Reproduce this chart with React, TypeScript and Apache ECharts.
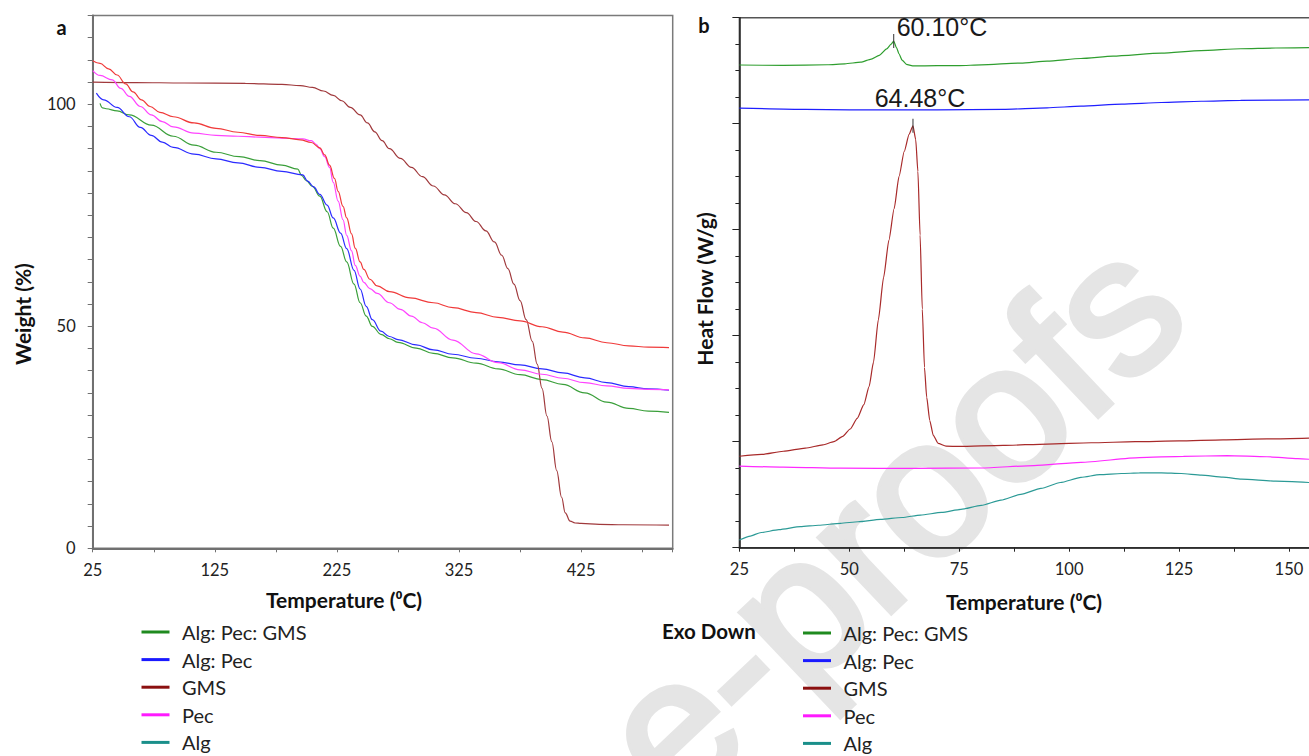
import React, { useEffect, useRef } from 'react';
import * as echarts from 'echarts';

// ---------- data ----------
const seriesNames = ['Alg: Pec: GMS', 'Alg: Pec', 'GMS', 'Pec', 'Alg'];
const legendColors = ['#1f8a1f', '#1a1aff', '#8b1010', '#ff1aff', '#1a8f8a'];
const tgaColors = ['#3a9f3a', '#2b2bff', '#a0393c', '#ff44ff', '#f03a3a'];
const dscColors = ['#2f9e2f', '#1f1fff', '#a82a2a', '#ff2aff', '#2b9a96'];

// TGA (panel a): [temperature °C, weight %]
const tgaAlgPecGms: [number, number][] = [
  [31, 100.2], [33, 99.2], [36, 99.0], [45, 98.5], [55, 97.6], [73, 95.3], [91, 92.8], [108, 90.8],
  [126, 89.2], [145, 88.2], [162, 87.3], [180, 86.3], [193, 85.4], [196, 84], [200, 82.8], [205, 81.5],
  [211, 79.3], [217, 75.8], [222, 72.1], [228, 68], [233, 64.5], [239, 59.5], [244, 55.3], [249, 52.3],
  [254, 50], [261, 48.2], [268, 47.2], [275, 46.4], [290, 45.1], [304, 43.9], [320, 42.9], [339, 41.7],
  [357, 40.4], [375, 39.1], [393, 38], [410, 36.9], [428, 35], [446, 32.9], [464, 31.5], [480, 30.9], [497, 30.6],
];
const tgaAlgPec: [number, number][] = [
  [28, 102.5], [34, 101], [45, 99.3], [55, 97.2], [64, 94.8], [73, 93], [82, 91.5], [91, 90.3], [108, 88.8],
  [126, 87.7], [144, 86.8], [162, 85.8], [180, 84.9], [197, 84.1], [201, 82.7], [206, 81.4], [211, 79.7],
  [217, 77.3], [222, 74.4], [228, 71], [233, 67.5], [239, 62.6], [244, 58.4], [249, 54.5], [254, 51.5],
  [261, 48.9], [268, 47.7], [275, 47], [290, 45.8], [304, 44.7], [320, 43.7], [339, 42.8], [357, 42],
  [375, 41.3], [393, 40.4], [410, 39.5], [428, 38.4], [446, 37.3], [464, 36.4], [480, 35.9], [497, 35.6],
];
const tgaGms: [number, number][] = [
  [25, 105], [60, 104.9], [100, 104.8], [150, 104.7], [180, 104.5], [195, 104.2], [205, 103.8], [214, 103],
  [222, 102], [229, 100.8], [236, 99.3], [244, 97.6], [250, 95.8], [256, 93.8], [262, 91.8], [268, 90],
  [277, 87.8], [286, 85.8], [295, 83.7], [304, 81.6], [313, 79.6], [322, 77.6], [331, 75.6], [339, 73.6],
  [347, 71.5], [354, 69], [360, 66], [365, 63], [370, 59.5], [375, 55.8], [380, 51.5], [385, 46.6],
  [389, 41.5], [393, 36], [397, 29.8], [401, 24], [405, 17.5], [409, 11.5], [412, 8], [416, 6.1],
  [420, 5.7], [425, 5.6], [440, 5.4], [460, 5.3], [497, 5.2],
];
const tgaPec: [number, number][] = [
  [25, 107.6], [31, 106.5], [41, 105.5], [48, 103.6], [55, 101.8], [64, 99.5], [73, 97.6], [82, 96.1],
  [91, 94.9], [108, 93.5], [126, 93], [144, 92.8], [162, 92.6], [180, 92.4], [197, 92.2], [204, 91.8],
  [208, 91], [211, 90], [215, 88.2], [219, 85.8], [222, 82.4], [226, 78.2], [230, 74], [233, 70.5],
  [237, 67], [240, 63.7], [244, 61.3], [247, 59.9], [252, 58.5], [258, 57.4], [268, 55.3], [277, 53.8],
  [286, 52.3], [295, 50.8], [304, 49.6], [320, 46.9], [339, 43.8], [357, 41.8], [375, 40.2], [393, 39.2],
  [410, 38.3], [428, 37.3], [446, 36.6], [464, 36], [480, 35.8], [497, 35.7],
];
const tgaAlg: [number, number][] = [
  [25, 109.8], [31, 109.2], [38, 108], [45, 106.6], [52, 104.6], [58, 102.8], [65, 101], [72, 99.5],
  [80, 98.2], [91, 97.2], [108, 95.8], [126, 94.6], [144, 93.7], [162, 93], [180, 92.5], [195, 92],
  [204, 91.4], [211, 90.2], [215, 88.6], [219, 86.3], [223, 83.3], [226, 80.4], [230, 77], [233, 74.4],
  [237, 70.8], [240, 67.6], [244, 64.5], [247, 62.8], [252, 60.6], [258, 59.1], [268, 57.8], [285, 56.4],
  [304, 55.3], [320, 54.2], [339, 53.1], [357, 52], [375, 51.2], [393, 49.9], [410, 48.7], [428, 47.4],
  [446, 46.3], [464, 45.6], [480, 45.3], [497, 45.2],
];

// DSC (panel b): [temperature °C, heat flow (arbitrary offset units)]
const dscAlgPecGms: [number, number][] = [
  [25, 4.554], [35, 4.55], [45, 4.556], [49, 4.565], [52.6, 4.58], [55, 4.61], [56.8, 4.645], [58.5, 4.705],
  [59.5, 4.75], [60.1, 4.78], [60.7, 4.72], [61.3, 4.66], [62, 4.6], [63, 4.56], [64.4, 4.545], [70, 4.547],
  [75, 4.548], [80, 4.555], [89, 4.572], [95, 4.59], [102.7, 4.615], [110, 4.637], [121, 4.665], [130, 4.69],
  [139, 4.707], [147, 4.714], [156, 4.718],
];
const dscAlgPec: [number, number][] = [
  [25, 4.147], [40, 4.135], [50, 4.131], [70, 4.13], [85, 4.135], [95, 4.15], [102.7, 4.165], [112, 4.185],
  [121, 4.2], [130, 4.212], [139, 4.22], [156, 4.225],
];
const dscGms: [number, number][] = [
  [25, 0.863], [30, 0.88], [35, 0.91], [40, 0.94], [44, 0.97], [46.5, 1.0], [48.5, 1.05], [50.2, 1.12],
  [51.8, 1.22], [53.3, 1.35], [54.5, 1.52], [55.5, 1.75], [56.6, 2.15], [57.8, 2.55], [59, 2.9], [60.2, 3.2],
  [61.3, 3.5], [62.5, 3.74], [63.6, 3.9], [64.48, 3.98], [65.1, 3.85], [65.6, 3.55], [66.1, 2.95], [66.6, 2.25],
  [67.1, 1.7], [67.6, 1.42], [68.3, 1.2], [69.1, 1.06], [70.2, 0.985], [72, 0.958], [75, 0.955], [85, 0.965],
  [95, 0.978], [105, 0.99], [115, 1.0], [125, 1.008], [135, 1.018], [145, 1.027], [156, 1.036],
];
const dscPec: [number, number][] = [
  [25, 0.77], [35, 0.76], [48, 0.75], [65, 0.748], [80, 0.752], [92, 0.775], [102.7, 0.805], [116, 0.85],
  [126, 0.862], [136, 0.868], [145, 0.858], [152, 0.84], [156, 0.83],
];
const dscAlg: [number, number][] = [
  [25, 0.073], [27.5, 0.11], [29.7, 0.141], [34, 0.17], [38.9, 0.198], [43, 0.212], [48, 0.23], [52, 0.245],
  [57.1, 0.267], [62, 0.285], [66.2, 0.308], [71, 0.333], [75.4, 0.362], [80, 0.4], [84.5, 0.449], [89, 0.503],
  [93.6, 0.559], [98, 0.615], [102.7, 0.663], [107, 0.69], [111.9, 0.7], [116, 0.705], [121, 0.706],
  [125.5, 0.7], [130.1, 0.685], [135, 0.665], [139.2, 0.647], [147, 0.628], [156, 0.612],
];

const peakTemps = [60.1, 64.48];
const peakValues = [4.78, 3.98];
const peakLabels = ['60.10°C', '64.48°C'];

const tgaData = [tgaAlgPecGms, tgaAlgPec, tgaGms, tgaPec, tgaAlg];
const dscData = [dscAlgPecGms, dscAlgPec, dscGms, dscPec, dscAlg];

const FONT = 'Lato, "Open Sans", "DejaVu Sans", sans-serif';

export default function App() {
  const ref = useRef<HTMLDivElement>(null);

  useEffect(() => {
    if (!ref.current) return;
    const chart = echarts.init(ref.current, undefined, { renderer: 'svg' });

    const labelStyle = { fontFamily: FONT, fontSize: 16.5, color: '#222' };

    const series: any[] = [];
    tgaData.forEach((d, i) => {
      series.push({
        name: seriesNames[i],
        type: 'line',
        xAxisIndex: 0,
        yAxisIndex: 0,
        data: d,
        showSymbol: false,
        smooth: 0.4,
        smoothMonotone: 'x',
        lineStyle: { color: tgaColors[i], width: 1.2 },
        itemStyle: { color: tgaColors[i] },
        z: 3,
      });
    });
    dscData.forEach((d, i) => {
      const s: any = {
        name: seriesNames[i],
        type: 'line',
        xAxisIndex: 1,
        yAxisIndex: 1,
        data: d,
        showSymbol: false,
        smooth: 0.2,
        smoothMonotone: 'x',
        lineStyle: { color: dscColors[i], width: 1.2 },
        itemStyle: { color: dscColors[i] },
        z: 3,
      };
      const pk = i === 0 ? 0 : i === 2 ? 1 : -1;
      if (pk >= 0) {
        s.markPoint = {
          symbol: 'rect',
          symbolSize: [1, 14],
          itemStyle: { color: '#333' },
          silent: true,
          data: [
            {
              coord: [peakTemps[pk], peakValues[pk]],
              label: {
                show: true,
                formatter: peakLabels[pk],
                position: 'top',
                distance: 0,
                align: pk === 0 ? 'left' : 'center',
                offset: pk === 0 ? [3, 5] : [7, -8],
                fontFamily: '"Liberation Sans", Arial, sans-serif',
                fontSize: 25,
                lineHeight: 25,
                color: '#1a1a1a',
              },
            },
          ],
        };
      }
      series.push(s);
    });

    const legendBase = {
      orient: 'vertical',
      icon: 'rect',
      itemWidth: 28,
      itemHeight: 3,
      itemGap: 7.6,
      padding: 0,
      textStyle: { fontFamily: FONT, fontSize: 20, color: '#222', lineHeight: 20, padding: [0, 0, 0, 7.5] },
      data: seriesNames.map((n, i) => ({ name: n, itemStyle: { color: legendColors[i] } })),
    };

    const titleStyle = { fontFamily: FONT, fontWeight: 'bold', fontSize: 21, fill: '#111', align: 'center', verticalAlign: 'middle' };

    const option: any = {
      animation: false,
      backgroundColor: '#fff',
      grid: [
        { left: 92.7, top: 15.5, width: 580, height: 532.8, show: true, borderColor: '#7a7a7a', borderWidth: 1.5, backgroundColor: 'transparent' },
        { left: 739.4, top: 17.7, width: 604.5, height: 530, show: true, borderColor: '#555', borderWidth: 1.5, backgroundColor: 'transparent' },
      ],
      xAxis: [
        {
          type: 'value', gridIndex: 0, min: 25, max: 500, interval: 50,
          axisLine: { show: true, lineStyle: { color: '#707070', width: 2 } },
          axisTick: { show: true, length: 4, lineStyle: { color: '#707070' } },
          splitLine: { show: false },
          axisLabel: {
            ...labelStyle, margin: 13,
            formatter: (v: number) => ((v - 25) % 100 === 0 && v <= 425 ? String(v) : ''),
          },
        },
        {
          type: 'value', gridIndex: 1, min: 25, max: 162.5, interval: 12.5,
          axisLine: { show: true, lineStyle: { color: '#222', width: 1.5 } },
          axisTick: { show: true, length: 4, lineStyle: { color: '#222' } },
          splitLine: { show: false },
          axisLabel: {
            ...labelStyle, margin: 13,
            formatter: (v: number) => (v % 25 === 0 && v <= 150 ? String(v) : ''),
          },
        },
      ],
      yAxis: [
        {
          type: 'value', gridIndex: 0, min: 0, max: 120, interval: 5,
          axisLine: { show: true, lineStyle: { color: '#707070', width: 2 } },
          axisTick: { show: true, length: 5, lineStyle: { color: '#707070' } },
          splitLine: { show: false },
          axisLabel: {
            ...labelStyle, margin: 17,
            formatter: (v: number) => (v % 50 === 0 ? String(v) : ''),
          },
        },
        {
          type: 'value', gridIndex: 1, min: 0, max: 5, interval: 1,
          axisLine: { show: true, lineStyle: { color: '#222', width: 1.5 } },
          axisTick: { show: true, length: 7, lineStyle: { color: '#222' } },
          minorTick: { show: true, splitNumber: 4, length: 4, lineStyle: { color: '#222' } },
          splitLine: { show: false },
          axisLabel: { show: false },
        },
      ],
      legend: [
        { ...legendBase, left: 141.5, top: 622 },
        { ...legendBase, left: 803, top: 623 },
      ],
      graphic: [
        {
          type: 'text', x: 890, y: 520, rotation: (43.5 * Math.PI) / 180, z: -10, silent: true,
          style: {
            text: 'e-proofs', fontFamily: '"Liberation Sans", Arial, sans-serif', fontSize: 195,
            fill: '#e5e5e5', stroke: '#e5e5e5', lineWidth: 6, align: 'center', verticalAlign: 'middle',
          },
        },
        { type: 'text', x: 61.7, y: 26.5, style: { ...titleStyle, text: 'a', fontSize: 20 } },
        { type: 'text', x: 704, y: 25, style: { ...titleStyle, text: 'b', fontSize: 20 } },
        { type: 'text', x: 22, y: 314, rotation: Math.PI / 2, style: { ...titleStyle, text: 'Weight (%)' } },
        { type: 'text', x: 704, y: 289, rotation: Math.PI / 2, style: { ...titleStyle, text: 'Heat Flow (W/g)' } },
        { type: 'text', x: 344, y: 599, style: { ...titleStyle, text: 'Temperature (⁰C)' } },
        { type: 'text', x: 1024, y: 601, style: { ...titleStyle, text: 'Temperature (⁰C)' } },
        { type: 'text', x: 662, y: 631, style: { ...titleStyle, text: 'Exo Down', fontSize: 20.5, align: 'left' } },
      ],
      series,
    };

    chart.setOption(option);
    return () => chart.dispose();
  }, []);

  return (
    <div style={{ position: 'absolute', left: 0, top: 0, width: 1309, height: 756, overflow: 'hidden', background: '#fff' }}>
      <div ref={ref} style={{ width: 1400, height: 800 }} />
    </div>
  );
}
